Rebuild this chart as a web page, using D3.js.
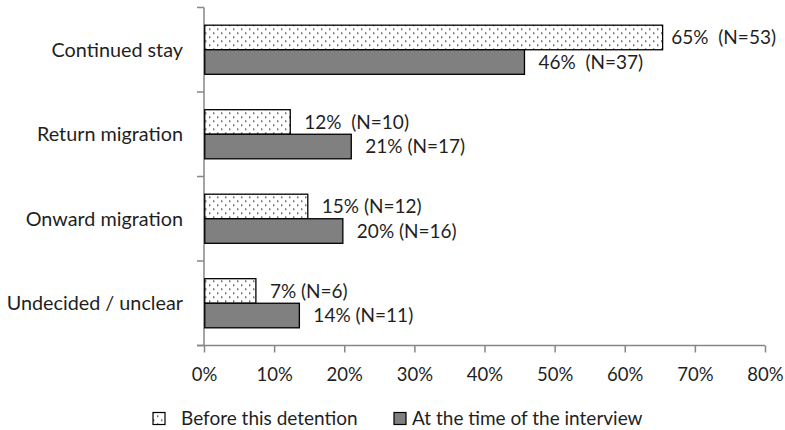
<!DOCTYPE html>
<html>
<head>
<meta charset="utf-8">
<script src="https://cdn.jsdelivr.net/npm/d3@7"></script>
<style>
  body { margin: 0; background: #fff; }
  text { font-family: Lato, "Open Sans", sans-serif; fill: #1f1f1f; }
  .bar-label { white-space: pre; }
</style>
</head>
<body>
<div id="chart"></div>
<script>
// --- Data ---
const categories = ["Continued stay", "Return migration", "Onward migration", "Undecided / unclear"];
const seriesNames = ["Before this detention", "At the time of the interview"];
const beforeValues = [65.4, 12.3, 14.8, 7.4];
const interviewValues = [45.7, 21.0, 19.8, 13.6];
const beforeLabels = ["65%  (N=53)", "12%  (N=10)", "15% (N=12)", "7% (N=6)"];
const interviewLabels = ["46%  (N=37)", "21% (N=17)", "20% (N=16)", "14% (N=11)"];
const xTicks = [0, 10, 20, 30, 40, 50, 60, 70, 80];

const rows = [];
categories.forEach((c, i) => {
  rows.push({ category: c, series: seriesNames[0], value: beforeValues[i], label: beforeLabels[i] });
  rows.push({ category: c, series: seriesNames[1], value: interviewValues[i], label: interviewLabels[i] });
});

// --- Layout ---
const width = 785, height = 430;
const margin = { top: 7.5, right: 20, bottom: 84.5, left: 204 };
const plotW = 561;
const plotH = height - margin.top - margin.bottom;
const axisColor = "#868686";

const svg = d3.select("#chart").append("svg")
  .attr("width", width)
  .attr("height", height);

// dotted pattern for the first series
const defs = svg.append("defs");
const pat = defs.append("pattern")
  .attr("id", "dots")
  .attr("patternUnits", "userSpaceOnUse")
  .attr("width", 8)
  .attr("height", 8);
pat.append("rect").attr("width", 8).attr("height", 8).attr("fill", "#fff");
pat.append("rect").attr("x", 1).attr("y", 1).attr("width", 1.4).attr("height", 1.4).attr("fill", "#333");
pat.append("rect").attr("x", 5).attr("y", 5).attr("width", 1.4).attr("height", 1.4).attr("fill", "#333");

const fills = { [seriesNames[0]]: "url(#dots)", [seriesNames[1]]: "#808080" };

const g = svg.append("g").attr("transform", `translate(${margin.left},${margin.top})`);

// --- Scales ---
const x = d3.scaleLinear().domain([0, 80]).range([0, plotW]);
const y = d3.scaleBand().domain(categories).range([0, plotH]).padding(0);
const ySub = d3.scaleBand().domain(seriesNames).range([0, y.bandwidth()])
  .paddingInner(0).paddingOuter(0.72);

// --- Axes ---
const xAxis = g.append("g")
  .attr("transform", `translate(0,${plotH})`)
  .call(d3.axisBottom(x).tickValues(xTicks).tickFormat(d => d + "%").tickSizeInner(7).tickSizeOuter(0).tickPadding(15));
xAxis.select(".domain").attr("stroke", axisColor).attr("stroke-width", 1.5).attr("d", `M-7,0H${x(80)}`);
xAxis.selectAll(".tick line").attr("stroke", axisColor).attr("stroke-width", 1.5);
xAxis.selectAll(".tick text").attr("font-size", 18.5).attr("font-family", "Lato").attr("fill", "#1f1f1f");

// y axis: line with boundary ticks between categories
const yAxis = g.append("g");
yAxis.append("line")
  .attr("x1", 0).attr("x2", 0)
  .attr("y1", 0).attr("y2", plotH)
  .attr("stroke", axisColor).attr("stroke-width", 1.5);
const bounds = categories.map(c => y(c)).concat([plotH]);
yAxis.selectAll(".ytick").data(bounds).join("line")
  .attr("class", "ytick")
  .attr("x1", -7).attr("x2", 0)
  .attr("y1", d => d).attr("y2", d => d)
  .attr("stroke", axisColor).attr("stroke-width", 1.5);
yAxis.selectAll(".ylabel").data(categories).join("text")
  .attr("class", "ylabel")
  .attr("x", -21)
  .attr("y", d => y(d) + y.bandwidth() / 2)
  .attr("dy", "0.35em")
  .attr("text-anchor", "end")
  .attr("font-size", 19.8)
  .text(d => d);

// --- Bars ---
g.selectAll(".bar").data(rows).join("rect")
  .attr("class", "bar")
  .attr("x", 0.75)
  .attr("y", d => y(d.category) + ySub(d.series))
  .attr("width", d => x(d.value) - 0.75)
  .attr("height", ySub.bandwidth())
  .attr("fill", d => fills[d.series])
  .attr("stroke", "#000")
  .attr("stroke-width", 1.3);

// labels sit right of the bar, pulled in if they would run past the edge
const labelMaxRight = width - margin.left - 9;
g.selectAll(".bar-label").data(rows).join("text")
  .attr("class", "bar-label")
  .attr("y", d => y(d.category) + ySub(d.series) + ySub.bandwidth() / 2)
  .attr("dy", "0.35em")
  .attr("font-size", 19)
  .text(d => d.label)
  .attr("x", function(d) {
    const w = this.getComputedTextLength();
    return Math.min(x(d.value) + 14, labelMaxRight - w);
  });

// --- Legend ---
const legend = svg.append("g").attr("transform", "translate(0,418.5)");
const legendMarkX = [153, 394];
const legendTextX = [181, 412];
seriesNames.forEach((s, i) => {
  legend.append("rect")
    .attr("x", legendMarkX[i]).attr("y", -6)
    .attr("width", 12).attr("height", 12)
    .attr("fill", fills[s])
    .attr("stroke", "#000").attr("stroke-width", 1.2);
  legend.append("text")
    .attr("x", legendTextX[i])
    .attr("y", 0)
    .attr("dy", "0.35em")
    .attr("font-size", 19)
    .text(s);
});
</script>
</body>
</html>
